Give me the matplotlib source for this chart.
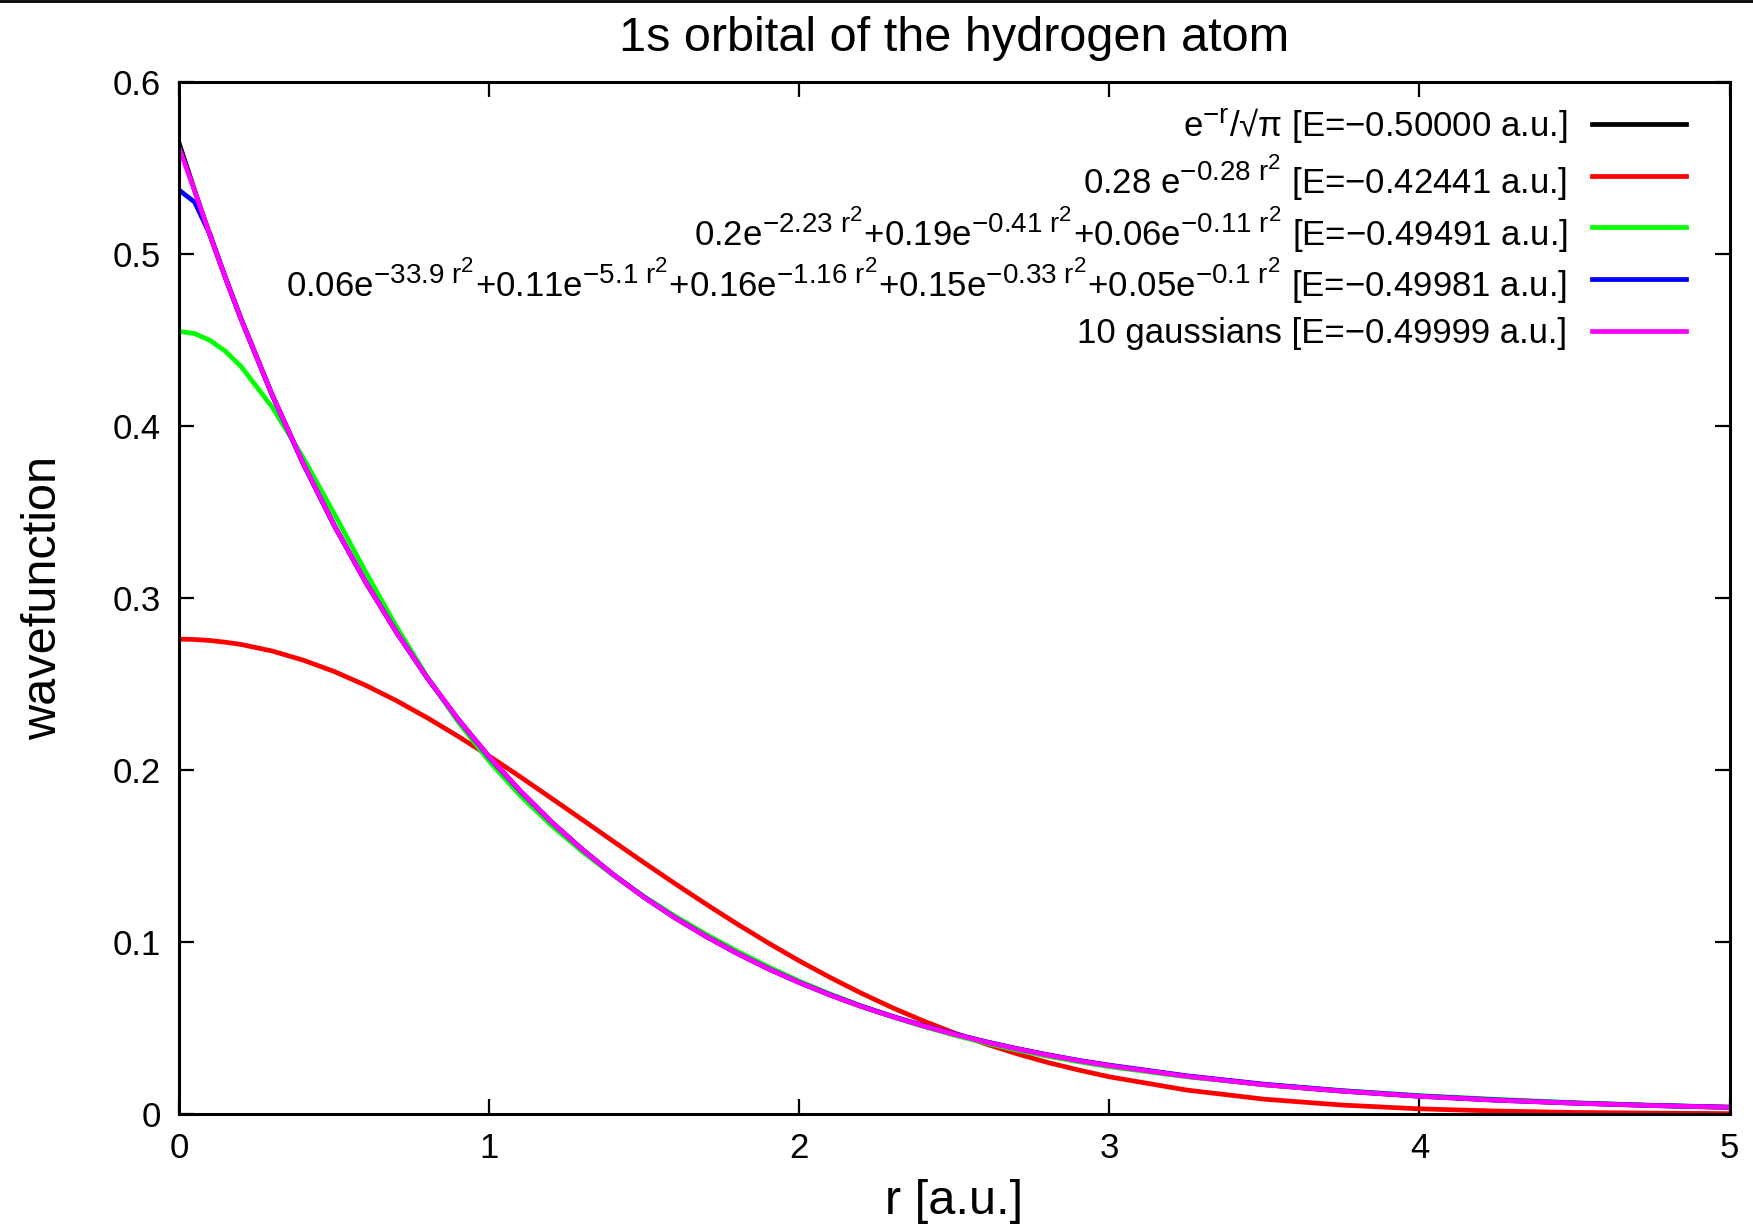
import matplotlib
matplotlib.use('Agg')
import matplotlib.pyplot as plt
from matplotlib.lines import Line2D
import matplotlib._mathtext as mathtext_intern

# Schrift: serifenlos wie im gnuplot-Original
plt.rcParams['font.family'] = ['Liberation Sans', 'DejaVu Sans']
plt.rcParams['mathtext.fontset'] = 'custom'
plt.rcParams['mathtext.rm'] = 'Liberation Sans'
plt.rcParams['mathtext.it'] = 'Liberation Sans'
# Exponenten etwas groesser, wie bei gnuplot
mathtext_intern.SHRINK_FACTOR = 0.8

# Werte
r = [0.0, 0.05, 0.1, 0.15, 0.2, 0.3, 0.4, 0.5, 0.6, 0.7, 0.8, 0.9, 1.0,
     1.1, 1.2, 1.3, 1.4, 1.5, 1.6, 1.7, 1.8, 1.9, 2.0, 2.1, 2.2, 2.3, 2.4,
     2.5, 2.6, 2.7, 2.8, 2.9, 3.0, 3.25, 3.5, 3.75, 4.0, 4.25, 4.5, 4.75,
     5.0]

exact = [0.5642, 0.5367, 0.5105, 0.4856, 0.4619, 0.4180, 0.3782, 0.3422,
         0.3096, 0.2802, 0.2535, 0.2294, 0.2076, 0.1878, 0.1699, 0.1538,
         0.1391, 0.1259, 0.1139, 0.1031, 0.0933, 0.0844, 0.0764, 0.0691,
         0.0625, 0.0566, 0.0512, 0.0463, 0.0419, 0.0379, 0.0343, 0.0310,
         0.0281, 0.0219, 0.0170, 0.0133, 0.0103, 0.0080, 0.0063, 0.0049,
         0.0038]

gauss1 = [0.2760, 0.2758, 0.2752, 0.2742, 0.2729, 0.2691, 0.2638, 0.2572,
          0.2493, 0.2403, 0.2303, 0.2195, 0.2080, 0.1960, 0.1836, 0.1711,
          0.1585, 0.1460, 0.1338, 0.1219, 0.1104, 0.0994, 0.0890, 0.0793,
          0.0702, 0.0618, 0.0541, 0.0471, 0.0408, 0.0351, 0.0300, 0.0256,
          0.0216, 0.0139, 0.0086, 0.0052, 0.0030, 0.0017, 0.0009, 0.0005,
          0.0002]

gauss3 = [0.4549, 0.4536, 0.4496, 0.4432, 0.4344, 0.4109, 0.3815, 0.3489,
          0.3156, 0.2835, 0.2541, 0.2279, 0.2050, 0.1851, 0.1678, 0.1525,
          0.1388, 0.1264, 0.1149, 0.1044, 0.0946, 0.0856, 0.0772, 0.0697,
          0.0628, 0.0565, 0.0509, 0.0458, 0.0413, 0.0372, 0.0336, 0.0304,
          0.0275, 0.0216, 0.0171, 0.0136, 0.0107, 0.0085, 0.0066, 0.0051,
          0.0039]

gauss5 = [0.5370, 0.5300, 0.5110, 0.4858, 0.4620, 0.4178, 0.3780, 0.3421,
          0.3097, 0.2803, 0.2535, 0.2293, 0.2073, 0.1876, 0.1698, 0.1538,
          0.1392, 0.1260, 0.1140, 0.1032, 0.0934, 0.0845, 0.0765, 0.0693,
          0.0627, 0.0568, 0.0514, 0.0466, 0.0421, 0.0381, 0.0345, 0.0312,
          0.0284, 0.0222, 0.0173, 0.0135, 0.0105, 0.0082, 0.0064, 0.0050,
          0.0040]

gauss10 = [0.5615, 0.5365, 0.5105, 0.4856, 0.4619, 0.4180, 0.3782, 0.3422,
           0.3096, 0.2802, 0.2535, 0.2294, 0.2076, 0.1878, 0.1699, 0.1538,
           0.1391, 0.1259, 0.1139, 0.1031, 0.0933, 0.0844, 0.0764, 0.0691,
           0.0625, 0.0566, 0.0512, 0.0463, 0.0419, 0.0379, 0.0343, 0.0310,
           0.0281, 0.0219, 0.0170, 0.0133, 0.0103, 0.0080, 0.0063, 0.0049,
           0.0039]

labels = [
    'e$^{\\mathrm{-r}}$/√π [E=−0.50000 a.u.]',
    '0.28 e$^{\\mathrm{-0.28\\ r^2}}$ [E=−0.42441 a.u.]',
    '0.2e$^{\\mathrm{-2.23\\ r^2}}$+0.19e$^{\\mathrm{-0.41\\ r^2}}$'
    '+0.06e$^{\\mathrm{-0.11\\ r^2}}$ [E=−0.49491 a.u.]',
    '0.06e$^{\\mathrm{-33.9\\ r^2}}$+0.11e$^{\\mathrm{-5.1\\ r^2}}$'
    '+0.16e$^{\\mathrm{-1.16\\ r^2}}$+0.15e$^{\\mathrm{-0.33\\ r^2}}$'
    '+0.05e$^{\\mathrm{-0.1\\ r^2}}$ [E=−0.49981 a.u.]',
    '10 gaussians [E=−0.49999 a.u.]',
]
colors = ['#000000', '#ff0000', '#00ff00', '#0000ff', '#ff00ff']

fig = plt.figure(figsize=(17.53, 12.27), dpi=100)
ax = fig.add_axes([0.1022, 0.0921, 0.8844, 0.8413])

series = [exact, gauss1, gauss3, gauss5, gauss10]
for y, c in zip(series, colors):
    ax.plot(r, y, color=c, linewidth=3.4, solid_joinstyle='round')

ax.set_xlim(0, 5)
ax.set_ylim(0, 0.6)
ax.set_xticks([0, 1, 2, 3, 4, 5])
ax.set_yticks([0, 0.1, 0.2, 0.3, 0.4, 0.5, 0.6])
ax.set_xticklabels(['0', '1', '2', '3', '4', '5'])
ax.set_yticklabels(['0', '0.1', '0.2', '0.3', '0.4', '0.5', '0.6'])
ax.tick_params(direction='in', length=11, width=1.6, top=True, right=True,
               labelsize=25, pad=13)
for s in ax.spines.values():
    s.set_linewidth(2.2)

ax.set_title('1s orbital of the hydrogen atom', fontsize=35, pad=22)
ax.set_xlabel('r [a.u.]', fontsize=35, labelpad=10)
ax.set_ylabel('wavefunction', fontsize=35, labelpad=34)

# Legende wie bei gnuplot: gleichmaessiger Zeilenabstand, Text rechtsbuendig
# und als ganzer Block (mit Exponenten) vertikal zentriert
row_step = 0.0502
for i, (c, lab) in enumerate(zip(colors, labels)):
    yy = 0.9593 - i * row_step
    ax.add_line(Line2D([0.911, 0.972], [yy, yy], color=c, linewidth=3.4,
                       transform=ax.transAxes, clip_on=False))
    ax.text(0.8955, yy - 0.002, lab, transform=ax.transAxes, ha='right',
            va='center', fontsize=25)

# Linie am oberen Bildrand
fig.add_artist(Line2D([0, 1], [0.999, 0.999], color='black', linewidth=2,
                      transform=fig.transFigure))

plt.savefig('out.png', dpi=100)
